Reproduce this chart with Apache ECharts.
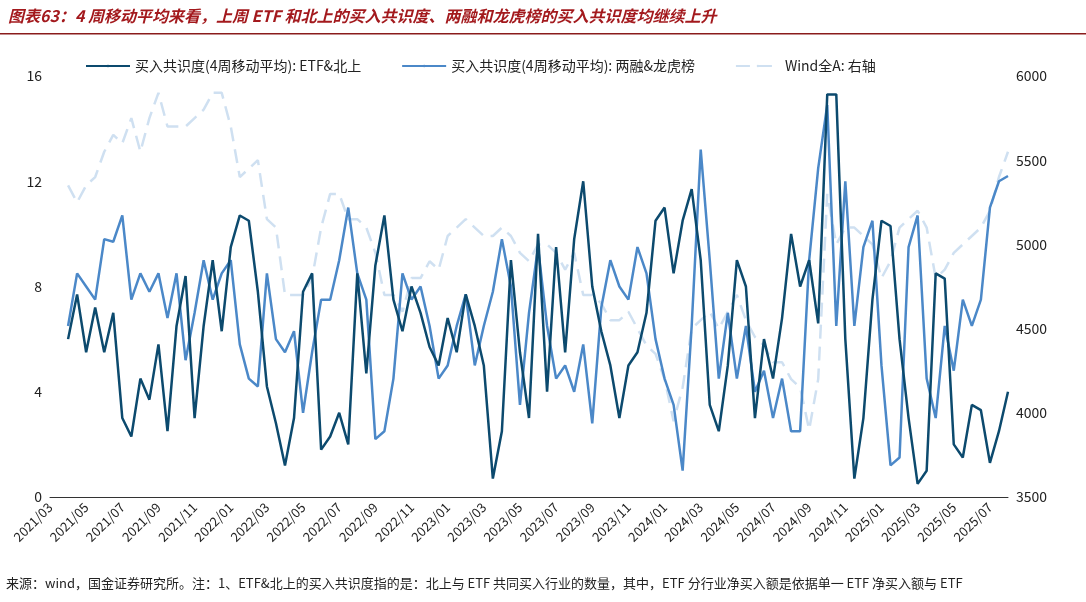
<!DOCTYPE html>
<html><head><meta charset="utf-8">
<script src="https://cdn.jsdelivr.net/npm/echarts@6/dist/echarts.min.js"></script>
<style>html,body{margin:0;padding:0;background:#fff}#c{width:1086px;height:602px}</style>
</head><body><div id="c"></div>
<script>
const etf = [null,null,
6,7.7, 5.5,7.2, 5.5,7, 3,2.3, 4.5,3.7, 5.8,2.5, 6.5,8.4, 3,6.5, 9,6.3,
9.5,10.7, 10.5,7.8, 4.2,2.8, 1.2,3, 7.8,8.5, 1.8,2.3, 3.2,2, 8.5,4.7, 8.8,10.7, 7.5,6.3, 8,7, 5.7,5,
6.8,5.5, 7.7,6.5, 5,0.7, 2.5,9, 5.5,3, 10,4, 9.5,5.5, 9.8,12, 8,6.3, 5,3, 5,5.5, 7,10.5,
11,8.5, 10.5,11.7, 9,3.5, 2.5,5, 9,8, 3,6, 4.5,6.8, 10,8, 9,6.6, 15.3,15.3, 6,0.7, 3,7.5,
10.5,10.3, 6,3, 0.5,1, 8.5,8.3, 2,1.5, 3.5,3.3, 1.3,2.5, 4];
const margin = [null,null,
6.5,8.5, 8,7.5, 9.8,9.7, 10.7,7.5, 8.5,7.8, 8.5,6.8, 8.5,5.2, 7,9, 7.5,8.5,
9,5.8, 4.5,4.2, 8.5,6, 5.5,6.3, 3.2,5.5, 7.5,7.5, 9,11, 8.5,7.5, 2.2,2.5, 4.5,8.5, 7.5,8, 6.5,4.5,
5,6.5, 7.7,5, 6.5,7.8, 9.8,8, 3.5,7, 9.5,6.5, 4.5,5, 4,5.8, 2.8,7.2, 9,8, 7.5,9.5, 8.5,6,
4.5,3.5, 1,6.5, 13.2,9, 4.5,7, 4.5,6.5, 4,4.8, 3,4.5, 2.5,2.5, 9,12.5, 14.9,6.5, 12,6.5, 9.5,10.5,
5,1.2, 1.5,9.5, 10.7,4.5, 3,6.5, 4.8,7.5, 6.5,7.5, 11,12, 12.2];
const windA = [null,null,
5350,5250, 5350,5400, 5550,5650, 5600,5750, 5550,5750, 5900,5700, 5700,5700, 5750,5800, 5900,5900,
5700,5400, 5450,5500, 5150,5100, 4700,4700, 4700,4800, 5100,5300, 5300,5150, 5150,5100, 4950,4700, 4700,4600, 4800,4800, 4900,4850,
5050,5100, 5150,5100, 5050,5050, 5100,5050, 4950,4900, 5000,5000, 4950,4850, 4950,4700, 4700,4650, 4550,4550, 4600,4500, 4400,4350,
4200,3950, 4150,4500, 4550,4600, 4500,4600, 4700,4550, 4450,4400, 4300,4300, 4200,4150, 3900,4200, 5300,5000, 5100,5100, 5050,5000,
4800,4900, 5100,5150, 5200,5100, 4800,4850, 4950,5000, 5050,5100, 5200,5400, 5550];
const dates = [];
for (let i = 0; i < etf.length; i++) {
  const m = 2 + Math.floor(i/2); const y = 2021 + Math.floor(m/12); const mo = m%12 + 1;
  dates.push(y + '/' + String(mo).padStart(2,'0') + (i%2 ? '/16' : '/01'));
}
const names = ['买入共识度(4周移动平均): ETF&北上','买入共识度(4周移动平均): 两融&龙虎榜','Wind全A: 右轴'];
const chart = echarts.init(document.getElementById('c'));
chart.setOption({
  animation:false,
  textStyle:{fontFamily:'"Noto Sans CJK SC", "Noto Sans", sans-serif'},
  graphic:[
    {type:'text',left:8,top:8,style:{text:'图表63：4 周移动平均来看，上周 ETF 和北上的买入共识度、两融和龙虎榜的买入共识度均继续上升',fill:'#a3191d',font:'italic bold 16px "Noto Sans CJK SC"'}},
    {type:'rect',shape:{x:0,y:33,width:1086,height:1.5},style:{fill:'#8a1c1c'}},
    {type:'text',left:6,top:577,style:{text:'来源：wind，国金证券研究所。注：1、ETF&北上的买入共识度指的是：北上与 ETF 共同买入行业的数量，其中，ETF 分行业净买入额是依据单一 ETF 净买入额与 ETF',fill:'#222',font:'13px "Noto Sans CJK SC"'}}
  ],
  legend:{top:54,left:80,itemWidth:44,itemHeight:3,itemGap:40,textStyle:{fontSize:14,color:'#222'},
    data:names},
  grid:{left:50,right:78,top:76,bottom:105},
  xAxis:{type:'category',data:dates,boundaryGap:false,
    axisLine:{lineStyle:{color:'#333'}},axisTick:{show:false},
    axisLabel:{rotate:45,fontSize:13,color:'#222',margin:8,
      interval:(i,v)=>v.endsWith('/01') && (parseInt(v.slice(5,7))%2===1),
      formatter:v=>v.slice(0,7)}},
  yAxis:[
    {type:'value',min:0,max:16,interval:4,splitLine:{show:false},axisLine:{show:false},axisTick:{show:false},axisLabel:{fontSize:14,color:'#222'}},
    {type:'value',min:3500,max:6000,interval:500,splitLine:{show:false},axisLine:{show:false},axisTick:{show:false},axisLabel:{fontSize:14,color:'#222',formatter:v=>String(v)}}
  ],
  series:[
    {name:names[2],type:'line',yAxisIndex:1,data:windA,symbol:'none',lineStyle:{color:'#cfe0f1',width:2.5,type:[14,8]},itemStyle:{color:'#cfe0f1'},z:1},
    {name:names[1],type:'line',data:margin,symbol:'none',lineStyle:{color:'#4b88c8',width:2.5},itemStyle:{color:'#4b88c8'},z:2},
    {name:names[0],type:'line',data:etf,symbol:'none',lineStyle:{color:'#0c4a6e',width:2.5},itemStyle:{color:'#0c4a6e'},z:3}
  ]
});
</script></body></html>
